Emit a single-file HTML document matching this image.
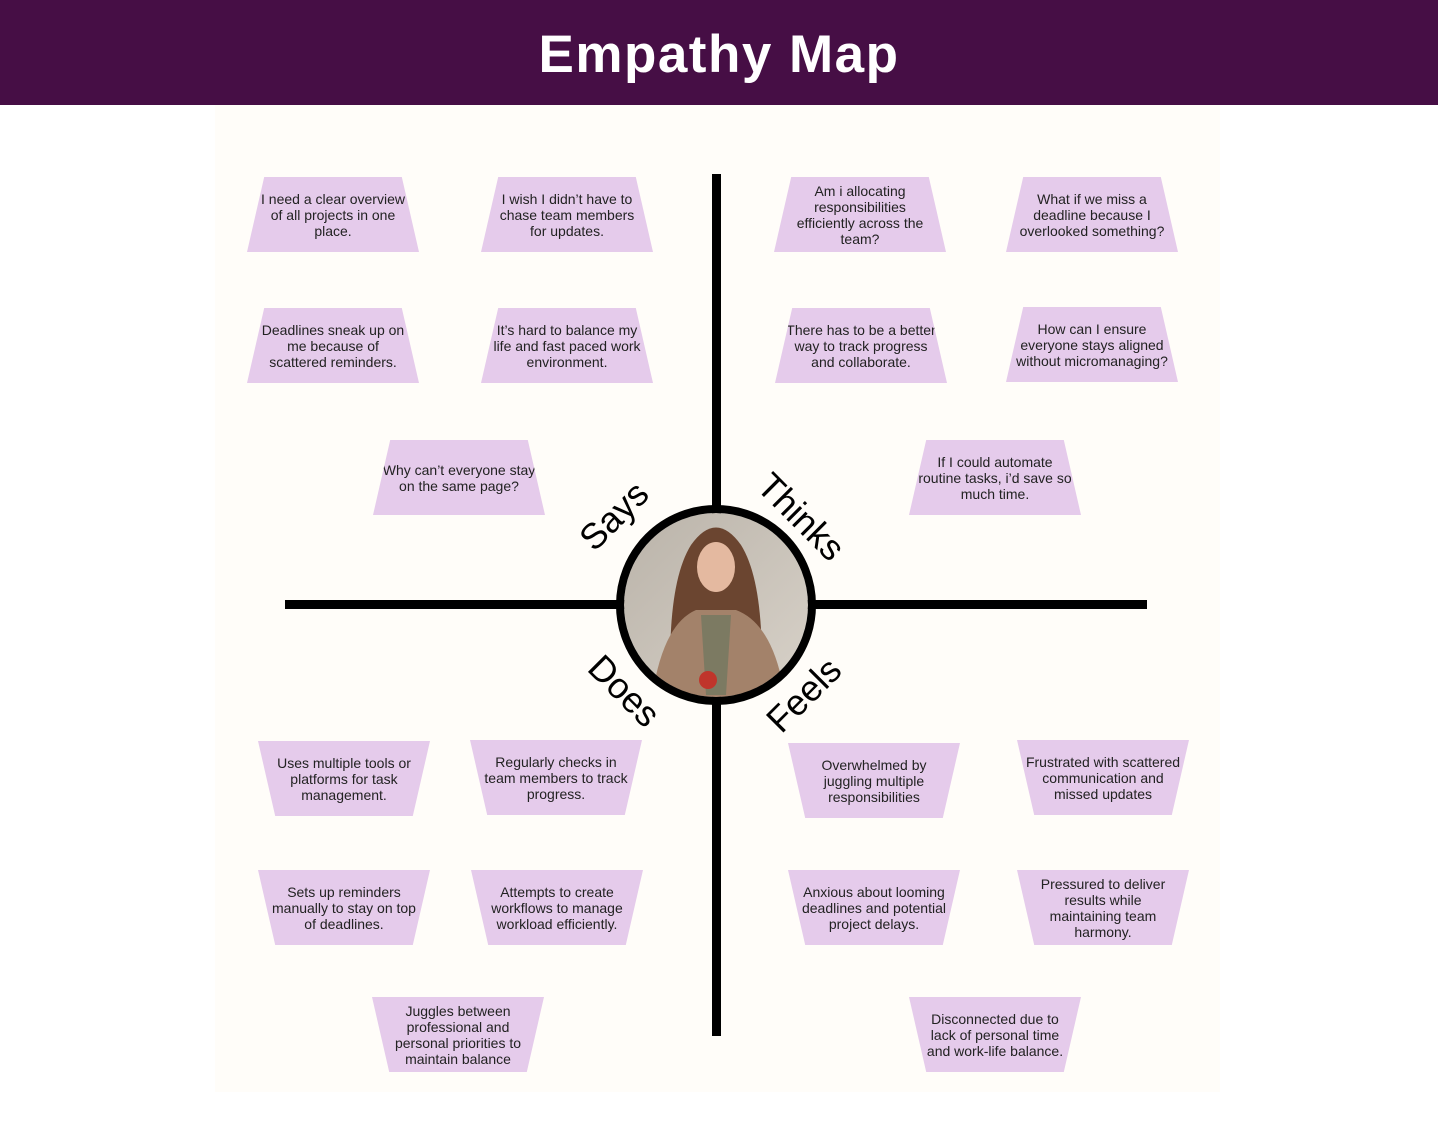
<!DOCTYPE html>
<html><head><meta charset="utf-8"><style>
body{margin:0;width:1438px;height:1143px;background:#fff;position:relative;overflow:hidden;font-family:"Liberation Sans",sans-serif}
.hdr{position:absolute;left:0;top:0;width:1438px;height:105px;background:#460e45;color:#fff;font-weight:bold;font-size:53px;text-align:center;line-height:110px;letter-spacing:1.5px}
.bg{position:absolute;left:215px;top:105px;width:1005px;height:987px;background:#fffdf9}
.t{position:absolute;width:172px;height:75px;background:#e5cbeb;display:flex;align-items:center;justify-content:center;text-align:center;font-size:14px;line-height:16px;color:#222;white-space:nowrap}
.up{clip-path:polygon(10% 0,90% 0,100% 100%,0 100%)}
.dn{clip-path:polygon(0 0,100% 0,90% 100%,10% 100%)}
.line{position:absolute;background:#000}
.lab{position:absolute;font-size:36px;color:#000;transform-origin:center;white-space:nowrap}
</style></head><body>
<div class="hdr">Empathy Map</div>
<div class="bg"></div>
<div class="line" style="left:712px;top:174px;width:9px;height:862px"></div>
<div class="line" style="left:285px;top:600px;width:862px;height:9px"></div>

<div class="t up" style="left:247px;top:177px"><span>I need a clear overview<br>of all projects in one<br>place.</span></div>
<div class="t up" style="left:481px;top:177px"><span>I wish I didn’t have to<br>chase team members<br>for updates.</span></div>
<div class="t up" style="left:247px;top:308px"><span>Deadlines sneak up on<br>me because of<br>scattered reminders.</span></div>
<div class="t up" style="left:481px;top:308px"><span>It’s hard to balance my<br>life and fast paced work<br>environment.</span></div>
<div class="t up" style="left:373px;top:440px"><span>Why can’t everyone stay<br>on the same page?</span></div>

<div class="t up" style="left:774px;top:177px"><span>Am i allocating<br>responsibilities<br>efficiently across the<br>team?</span></div>
<div class="t up" style="left:1006px;top:177px"><span>What if we miss a<br>deadline because I<br>overlooked something?</span></div>
<div class="t up" style="left:775px;top:308px"><span>There has to be a better<br>way to track progress<br>and collaborate.</span></div>
<div class="t up" style="left:1006px;top:307px"><span>How can I ensure<br>everyone stays aligned<br>without micromanaging?</span></div>
<div class="t up" style="left:909px;top:440px"><span>If I could automate<br>routine tasks, i’d save so<br>much time.</span></div>

<div class="t dn" style="left:258px;top:741px"><span>Uses multiple tools or<br>platforms for task<br>management.</span></div>
<div class="t dn" style="left:470px;top:740px"><span>Regularly checks in<br>team members to track<br>progress.</span></div>
<div class="t dn" style="left:258px;top:870px"><span>Sets up reminders<br>manually to stay on top<br>of deadlines.</span></div>
<div class="t dn" style="left:471px;top:870px"><span>Attempts to create<br>workflows to manage<br>workload efficiently.</span></div>
<div class="t dn" style="left:372px;top:997px"><span>Juggles between<br>professional and<br>personal priorities to<br>maintain balance</span></div>

<div class="t dn" style="left:788px;top:743px"><span>Overwhelmed by<br>juggling multiple<br>responsibilities</span></div>
<div class="t dn" style="left:1017px;top:740px"><span>Frustrated with scattered<br>communication and<br>missed updates</span></div>
<div class="t dn" style="left:788px;top:870px"><span>Anxious about looming<br>deadlines and potential<br>project delays.</span></div>
<div class="t dn" style="left:1017px;top:870px"><span>Pressured to deliver<br>results while<br>maintaining team<br>harmony.</span></div>
<div class="t dn" style="left:909px;top:997px"><span>Disconnected due to<br>lack of personal time<br>and work-life balance.</span></div>

<svg style="position:absolute;left:616px;top:505px" width="200" height="200" viewBox="0 0 200 200">
<defs><clipPath id="c"><circle cx="100" cy="100" r="92"/></clipPath>
<linearGradient id="g" x1="0" y1="0" x2="1" y2="1"><stop offset="0" stop-color="#b9b2a8"/><stop offset="1" stop-color="#d9d3ca"/></linearGradient></defs>
<g clip-path="url(#c)">
<rect width="200" height="200" fill="url(#g)"/>
<path d="M55 190 Q50 80 75 40 Q100 5 125 40 Q150 80 145 190Z" fill="#6b4530"/>
<path d="M35 200 Q45 120 80 105 L120 105 Q160 120 170 200Z" fill="#a3826a"/>
<path d="M85 110 L115 110 L110 190 L90 190Z" fill="#7c7a62"/>
<ellipse cx="100" cy="62" rx="19" ry="25" fill="#e4b9a0"/>
<circle cx="92" cy="175" r="9" fill="#c0352b"/>
</g>
<circle cx="100" cy="100" r="96" fill="none" stroke="#000" stroke-width="8"/>
</svg>

<div class="lab" style="left:574px;top:495px;transform:rotate(-45deg)">Says</div>
<div class="lab" style="left:748px;top:496px;transform:rotate(45deg)">Thinks</div>
<div class="lab" style="left:582px;top:670px;transform:rotate(45deg)">Does</div>
<div class="lab" style="left:760px;top:674px;transform:rotate(-45deg)">Feels</div>
</body></html>
